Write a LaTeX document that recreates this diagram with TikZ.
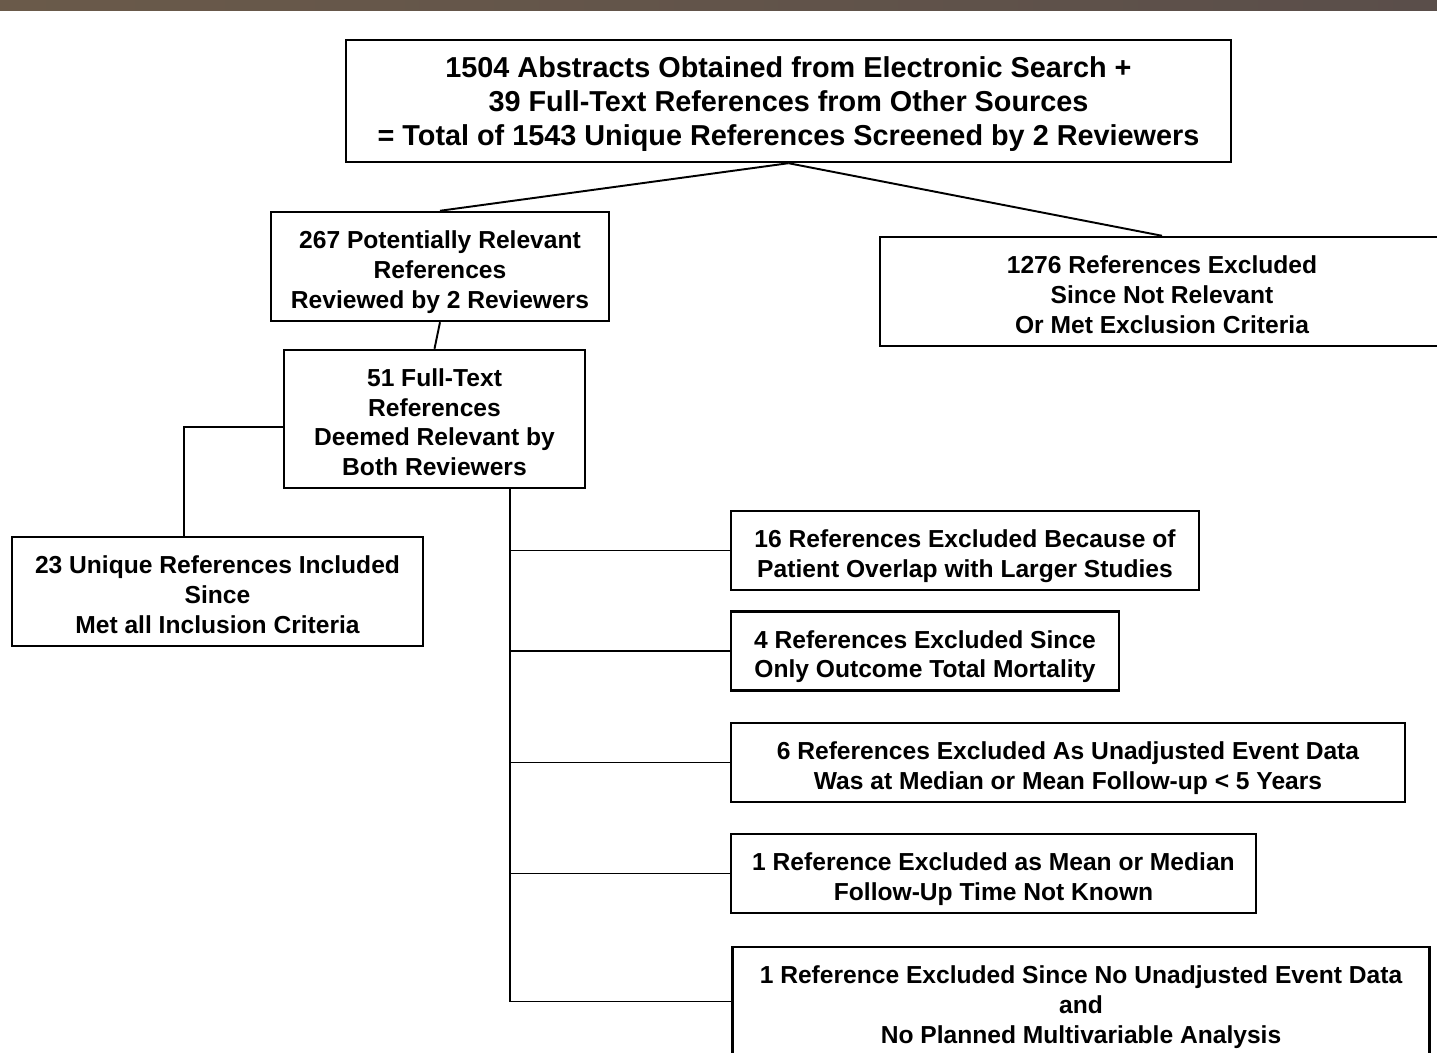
\documentclass[tikz,border=0pt]{standalone}
\usepackage{fontspec}
\setmainfont{Liberation Sans}
\usetikzlibrary{positioning,calc}
\definecolor{barleft}{RGB}{106,90,74}
\definecolor{barright}{RGB}{90,78,74}
\newcommand{\reflines}[1]{\raisebox{-3.4pt}[\height][\depth]{\begin{tabular}{@{}c@{}}#1\end{tabular}}}

\begin{document}
\begin{tikzpicture}[x=0.02cm, y=-0.02cm, semithick]
\tikzstyle{every node}=[font=\bfseries\fontsize{14}{17}\selectfont, text=black]
\tikzstyle{refbox}=[rectangle,draw=black,line width=1.4pt,inner sep=0pt,minimum height=1.58cm]
\tikzstyle{wire}=[draw=black,line width=1.1pt]
\useasboundingbox (0,0) rectangle (1437,1053);
\clip (0,0) rectangle (1437,1053);
% banner across the top
\shade[left color=barleft,right color=barright] (0,0) rectangle (1437,11);

\node[refbox, minimum width=17.7cm, minimum height=2.44cm, align=center, text depth=0pt, font=\bfseries\fontsize{16.4}{19.4}\selectfont] (A) at (788.5,101)
  {1504 Abstracts Obtained from Electronic Search +\\39 Full-Text References from Other Sources\\= Total of 1543 Unique References Screened by 2 Reviewers};
\node[refbox, minimum width=6.76cm, minimum height=2.18cm] (B) at (440,266.5)
  {\reflines{267 Potentially Relevant\\References\\Reviewed by 2 Reviewers}};
\node[refbox, minimum width=11.28cm, minimum height=2.18cm] (C) at (1162,291.5)
  {\reflines{1276 References Excluded\\Since Not Relevant\\Or Met Exclusion Criteria}};
\node[refbox, minimum width=6.02cm, minimum height=2.76cm] (D) at (434.5,419)
  {\reflines{51 Full-Text\\References\\Deemed Relevant by\\Both Reviewers}};
\node[refbox, minimum width=8.22cm, minimum height=2.18cm] (E) at (217.5,591.5)
  {\reflines{23 Unique References Included\\Since\\Met all Inclusion Criteria}};
% excluded after full-text review
\node[refbox, minimum width=9.36cm] (F) at (965,550.5)
  {\reflines{16 References Excluded Because of\\Patient Overlap with Larger Studies}};
\node[refbox, minimum width=7.76cm] (G) at (925,651)
  {\reflines{4 References Excluded Since\\Only Outcome Total Mortality}};
\node[refbox, minimum width=13.48cm] (H) at (1068,762.5)
  {\reflines{6 References Excluded As Unadjusted Event Data\\Was at Median or Mean Follow-up < 5 Years}};
\node[refbox, minimum width=10.5cm] (I) at (993.5,873.5)
  {\reflines{1 Reference Excluded as Mean or Median\\Follow-Up Time Not Known}};
\node[refbox, minimum width=13.94cm, minimum height=2.18cm] (J) at (1081,1001.5)
  {\reflines{1 Reference Excluded Since No Unadjusted Event Data\\and\\No Planned Multivariable Analysis}};

\coordinate (inc) at (184,537);
\coordinate (trunk) at ($(D.south)+(75.5,0)$);

\path[wire]
(A.south) edge (B.north)
          edge (C.north)
(B.south) edge (D.north);
\draw[wire] ($(D.west)+(0,8)$) -| (inc);
\draw[wire] (trunk) |- (J.west);
\foreach \n in {F,G,H,I}
  \draw[wire] (trunk |- \n.west) -- (\n.west);
\end{tikzpicture}
\end{document}
